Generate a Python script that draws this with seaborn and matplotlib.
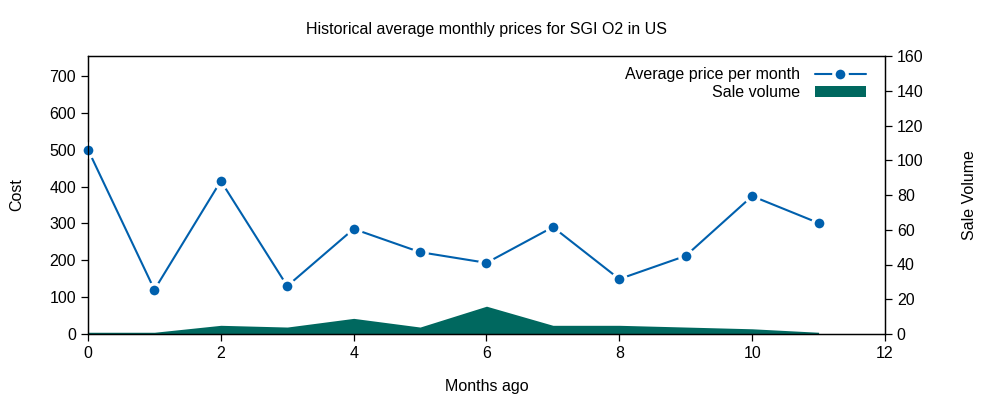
import pandas as pd
import matplotlib
matplotlib.use("Agg")
import matplotlib.pyplot as plt
import matplotlib.patches as mpatches
import seaborn as sns

# === Data ===
months_ago = [0, 1, 2, 3, 4, 5, 6, 7, 8, 9, 10, 11]
avg_price = [500, 120, 415, 130, 285, 222, 193, 290, 149, 212, 374, 301]
sale_volume = [1, 1, 5, 4, 9, 4, 16, 5, 5, 4, 3, 1]

df = pd.DataFrame({"months": months_ago, "price": avg_price, "volume": sale_volume})

sns.set_style("white")
plt.rcParams['font.family'] = ['Liberation Sans', 'DejaVu Sans']
plt.rcParams['font.size'] = 11.5
plt.rcParams['text.color'] = 'black'
plt.rcParams['axes.labelcolor'] = 'black'
plt.rcParams['xtick.color'] = 'black'
plt.rcParams['ytick.color'] = 'black'

fs = 11.5
line_col = "#0060ad"
fill_col = "#00685f"

fig, ax = plt.subplots(figsize=(10, 4), dpi=100)
fig.subplots_adjust(left=0.088, right=0.885, top=0.86, bottom=0.165)

ax2 = ax.twinx()

# Sale volume as filled area on right axis
ax2.fill_between(df["months"], df["volume"], 0, color=fill_col, lw=0)
ax2.set_ylim(0, 160)
ax2.set_yticks(range(0, 161, 20))
ax2.set_ylabel("Sale Volume", rotation=90, labelpad=28, fontsize=fs)

# Price line on left axis
ax.set_zorder(ax2.get_zorder() + 1)
ax.patch.set_visible(False)
sns.lineplot(data=df, x="months", y="price", ax=ax, color=line_col, lw=1.5,
             marker="o", markersize=9.5, markeredgewidth=2.5,
             markeredgecolor="white", clip_on=False)
for ln in ax.lines:
    ln.set_markerfacecolor(line_col)
ax.set_xlim(0, 12)
ax.set_ylim(0, 754)
ax.set_xticks(range(0, 13, 2))
ax.set_yticks(range(0, 701, 100))
ax.set_xlabel("Months ago", labelpad=13, fontsize=fs)
ax.set_ylabel("Cost", labelpad=18, fontsize=fs)
ax.set_title("Historical average monthly prices for SGI O2 in US", pad=16, fontsize=fs)

for a in (ax, ax2):
    for s in a.spines.values():
        s.set_color("black")
        s.set_linewidth(0.9)
    a.tick_params(direction="out", length=5, width=0.9, color="black", labelsize=fs)
ax.tick_params(axis="both", which="both", bottom=True, left=True)
ax2.tick_params(axis="y", right=True)

h_line = plt.Line2D([], [], color=line_col, lw=1.5, marker="o", markersize=9.5,
                    markeredgewidth=2.5, markeredgecolor="white",
                    markerfacecolor=line_col)
h_fill = mpatches.Patch(color=fill_col, lw=0)
ax.legend([h_line, h_fill], ["Average price per month", "Sale volume"],
          loc="upper right", frameon=False, markerfirst=False,
          handlelength=3.2, handletextpad=0.9, fontsize=fs,
          borderaxespad=0.3, labelspacing=0.2, bbox_to_anchor=(0.99, 1.0))

plt.savefig("out.png")
plt.close()
